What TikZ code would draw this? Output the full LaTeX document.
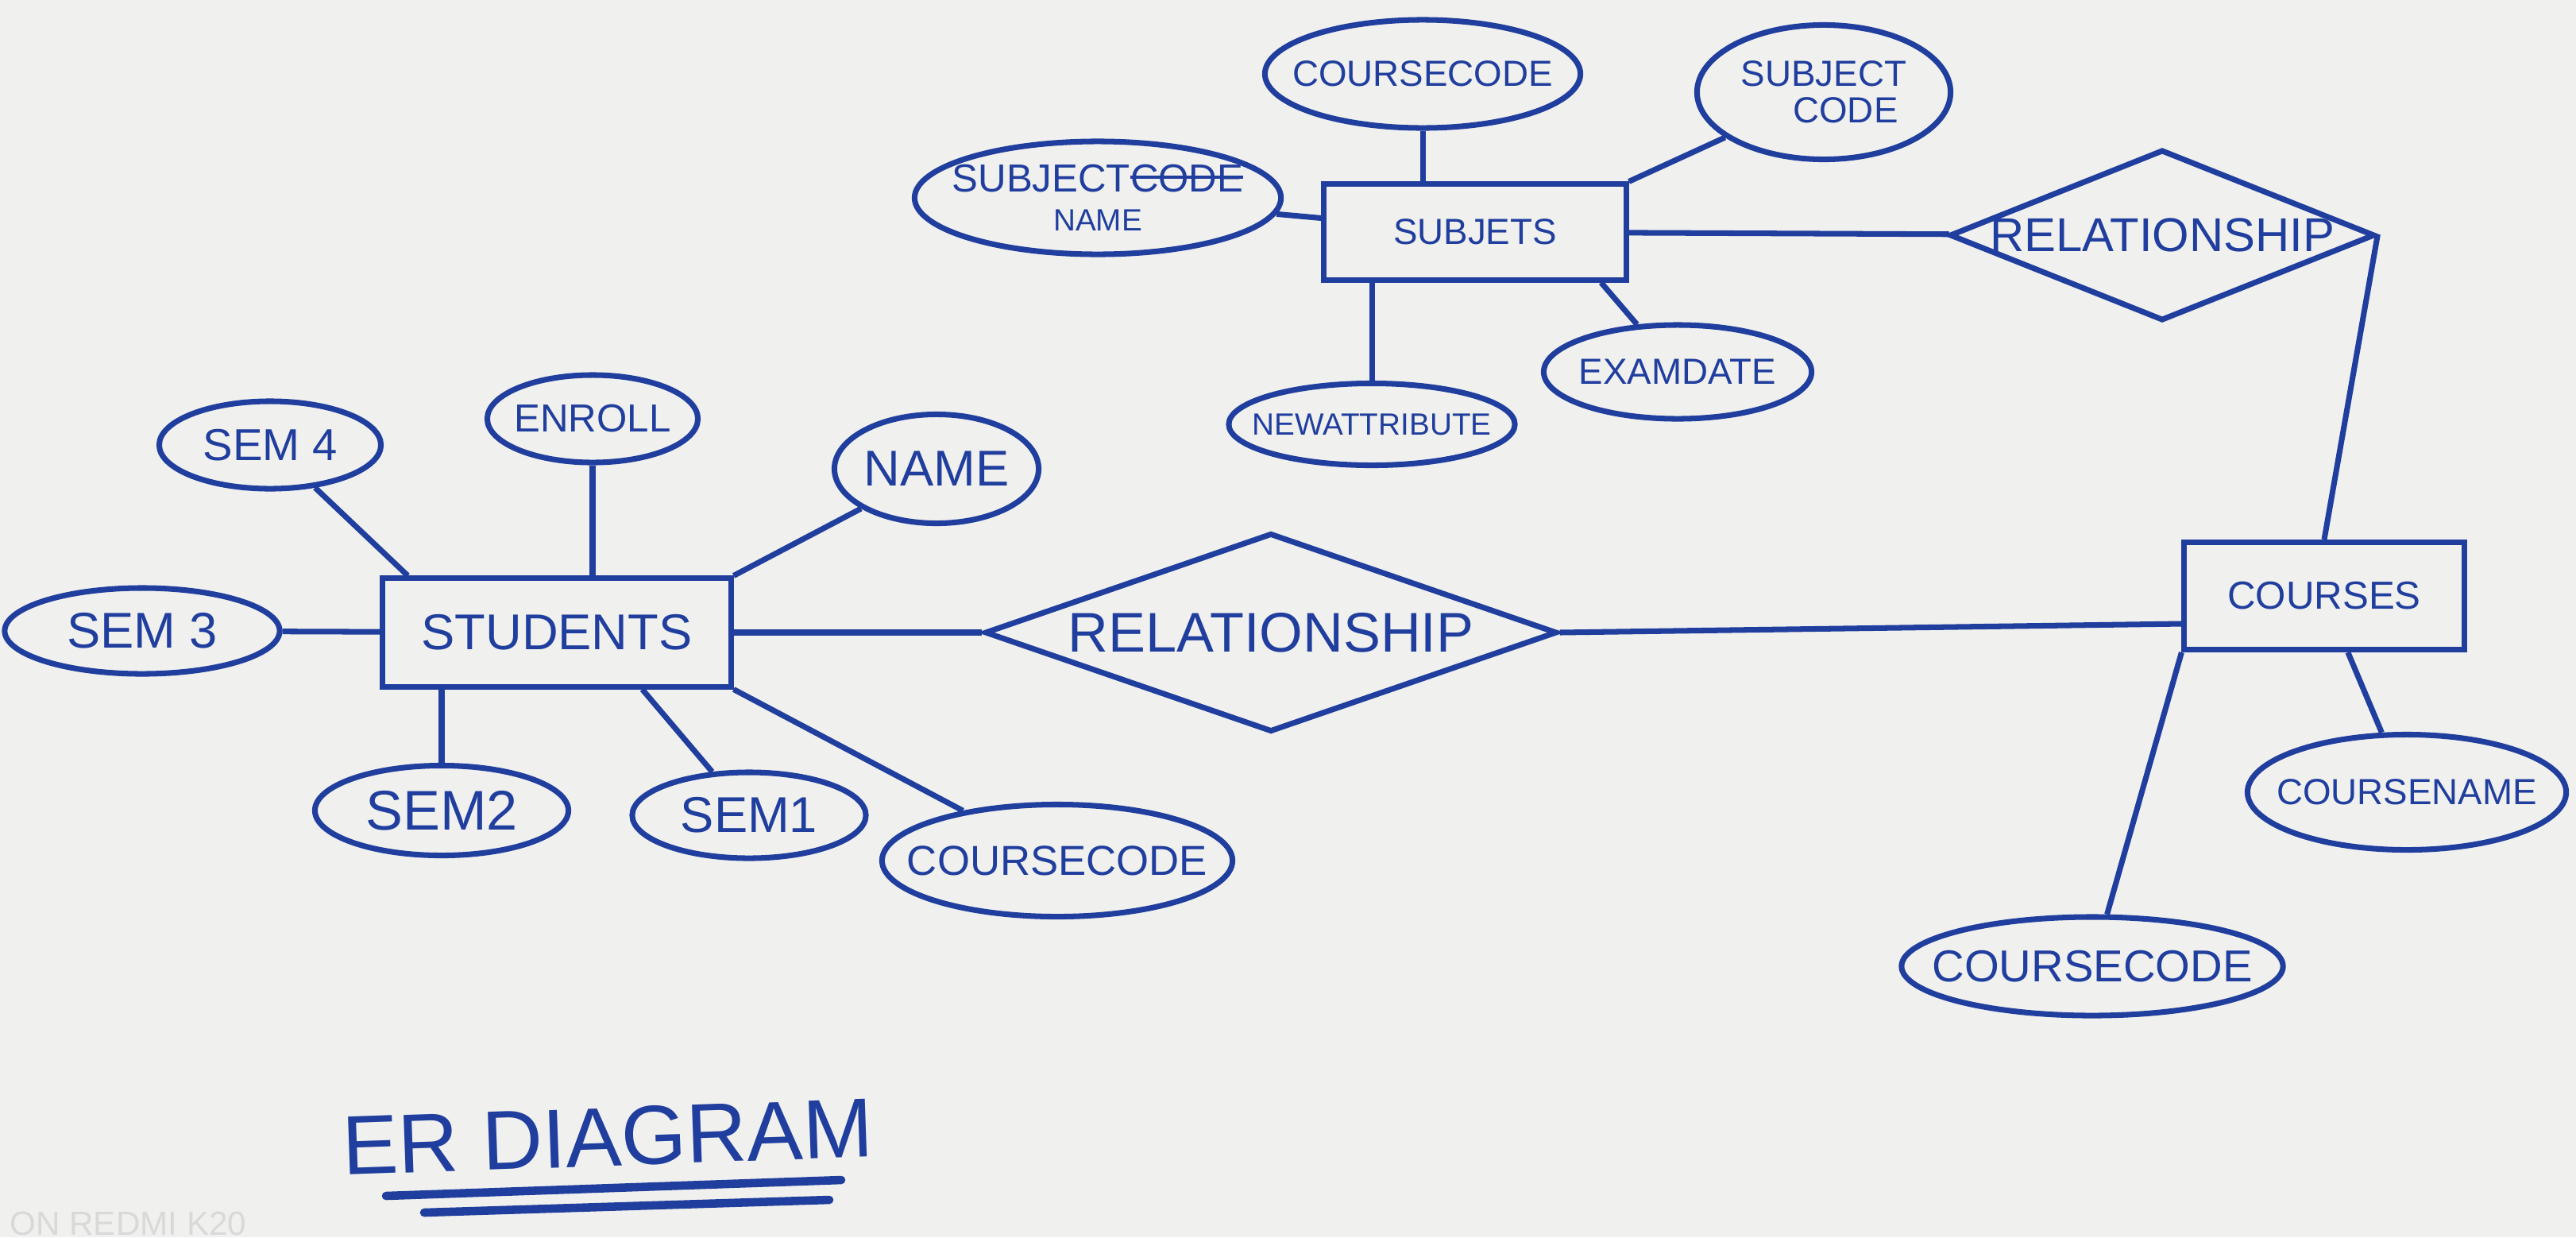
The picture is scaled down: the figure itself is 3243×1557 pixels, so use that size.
\documentclass[tikz,border=0pt]{standalone}
\usepackage{fontspec}
\setmainfont{Liberation Sans}
\usetikzlibrary{shapes.geometric}
\definecolor{ink}{RGB}{32,62,158}
\definecolor{paper}{RGB}{240,240,238}
\newcommand{\strk}[1]{\setbox0\hbox{#1}\rlap{\rule[0.33em]{\wd0}{0.09em}}#1}

\begin{document}
\begin{tikzpicture}[x=0.01cm, y=-0.01cm, color=ink,
    entity/.style={rectangle, draw, line width=2pt, inner sep=2pt},
    attr/.style={ellipse, draw, line width=2pt, inner sep=0pt},
    rel/.style={diamond, draw, line width=2pt, inner sep=0pt},
    txt/.style={font=\fontsize{#1}{#1}\selectfont},
    edge/.style={line width=2pt, -}
]
    \fill[paper] (0,0) rectangle (3243,1557);
    \useasboundingbox (0,0) rectangle (3243,1557);

    % students
    \node[entity, txt=18, minimum width=4.38cm, minimum height=1.36cm] (students) at (701,796) {STUDENTS};
    \node[attr, minimum width=2.79cm, minimum height=1.1cm, label={[txt=16]center:SEM 4}] (sem4) at (340,560) {};
    \node[attr, minimum width=2.65cm, minimum height=1.1cm, label={[txt=14]center:ENROLL}] (enroll) at (746,527) {};
    \node[attr, minimum width=2.57cm, minimum height=1.37cm, label={[txt=18]center:NAME}] (name) at (1179,590) {};
    \node[attr, minimum width=3.46cm, minimum height=1.08cm, label={[txt=18]center:SEM 3}] (sem3) at (179,794) {};
    \node[attr, minimum width=3.19cm, minimum height=1.13cm, label={[txt=20]center:SEM2}] (sem2) at (556,1020) {};
    \node[attr, minimum width=2.94cm, minimum height=1.08cm, label={[txt=18]center:SEM1}] (sem1) at (943,1026) {};
    \node[attr, minimum width=4.41cm, minimum height=1.41cm, label={[txt=15]center:COURSECODE}] (ccode1) at (1331,1083) {};

    % relationship students - courses
    \node[rel, minimum width=7.2cm, minimum height=2.5cm, label={[txt=20]center:RELATIONSHIP}] (rel1) at (1600,796) {};

    % courses
    \node[entity, txt=14, minimum width=3.52cm, minimum height=1.35cm] (courses) at (2926,750) {COURSES};
    \node[attr, minimum width=4.01cm, minimum height=1.45cm, label={[txt=13]center:COURSENAME}] (cname) at (3030,997) {};
    \node[attr, minimum width=4.8cm, minimum height=1.24cm, label={[txt=16]center:COURSECODE}] (ccode2) at (2634,1216) {};

    % subjets
    \node[entity, txt=13, minimum width=3.8cm, minimum height=1.2cm] (subjets) at (1857,292) {SUBJETS};
    \node[attr, minimum width=3.97cm, minimum height=1.36cm, label={[txt=13]center:COURSECODE}] (ccode3) at (1791,93) {};
    \node[attr, minimum width=3.19cm, minimum height=1.69cm, label={[txt=13, align=center]center:SUBJECT\\\hspace*{1.2em}CODE}] (scode) at (2296,116) {};
    \node[attr, minimum width=4.61cm, minimum height=1.42cm, label={[txt=14, align=center]center:SUBJECT\strk{CODE}\\{\fontsize{11}{11}\selectfont NAME}}] (sname) at (1382,249) {};
    \node[attr, minimum width=3.6cm, minimum height=1.03cm, label={[txt=11]center:NEWATTRIBUTE}] (newattr) at (1727,534) {};
    \node[attr, minimum width=3.37cm, minimum height=1.18cm, label={[txt=13]center:EXAMDATE}] (examdate) at (2112,468) {};

    % relationship subjets - courses
    \node[rel, minimum width=5.35cm, minimum height=2.15cm, label={[txt=17]center:RELATIONSHIP}] (rel2) at (2722,296) {};

    % title
    \node[txt=30, rotate=2] (title) at (765,1431) {ER DIAGRAM};
    \node[txt=12, text=white!85!black, anchor=west] (mark) at (0,1540) {ON REDMI K20};

    \draw[edge] (sem4) -- ([xshift=0.35cm]students.north west);
    \draw[edge] (enroll) -- (enroll |- students.north);
    \draw[edge] (students.north east) -- (name);
    \draw[edge] (sem3) -- (students);
    \draw[edge] (sem2) -- (sem2 |- students.south);
    \draw[edge] (sem1) -- ([xshift=-1.15cm]students.south east);
    \draw[edge] (students.south east) -- (ccode1);
    \draw[edge] (students) -- (rel1);
    \draw[edge] (rel1.east) -- ([yshift=-0.35cm]courses.west);
    \draw[edge] (courses) -- (cname);
    \draw[edge] (courses.south west) -- (ccode2);
    \draw[edge] (rel2.east) -- (courses.north);
    \draw[edge] (subjets) -- (rel2);
    \draw[edge] (ccode3) -- (ccode3 |- subjets.north);
    \draw[edge] (subjets.north east) -- (scode);
    \draw[edge] (sname) -- (subjets);
    \draw[edge] (newattr) -- (newattr |- subjets.south);
    \draw[edge] ([xshift=-0.35cm]subjets.south east) -- (examdate);

    % underline
    \draw[line width=3pt, line cap=round] (486,1505) -- (1059,1485);
    \draw[line width=3pt, line cap=round] (534,1526) -- (1044,1510);
\end{tikzpicture}
\end{document}
